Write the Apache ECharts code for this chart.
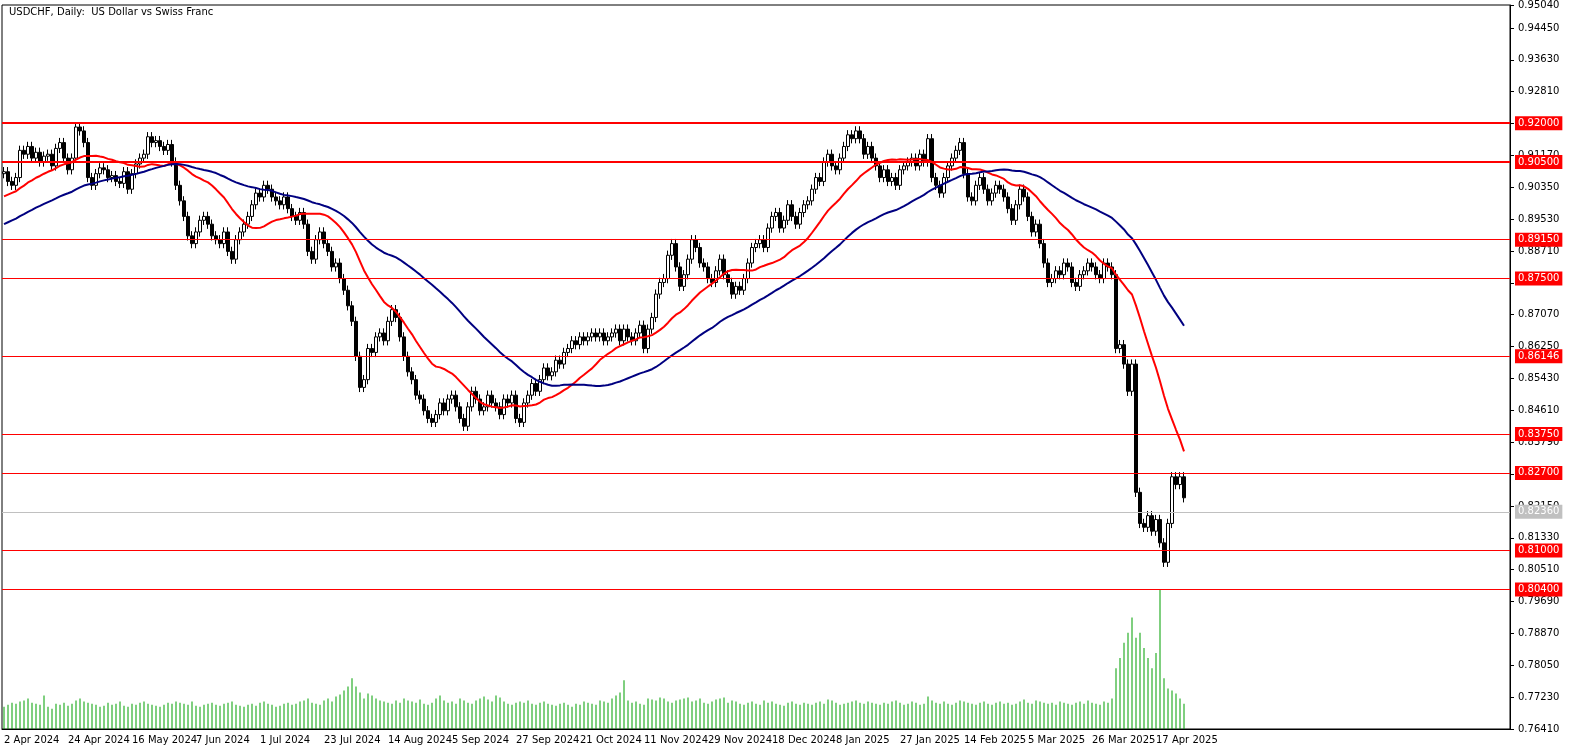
<!DOCTYPE html>
<html>
<head>
<meta charset="utf-8">
<script src="https://cdn.jsdelivr.net/npm/echarts@6/dist/echarts.min.js"></script>
<style>
  html, body { margin: 0; padding: 0; background: #fff; }
  #chart { width: 1586px; height: 750px; }
</style>
</head>
<body>
<div id="chart"></div>
<script>
// closes before the visible window (only used to warm up the moving averages)
var priorCloses = [
  0.8790,0.8810,0.8800,0.8830,0.8820,0.8850,0.8840,0.8860,0.8850,0.8870,
  0.8860,0.8880,0.8870,0.8890,0.8880,0.8900,0.8890,0.8910,0.8900,0.8920,
  0.8910,0.8930,0.8920,0.8940,0.8930,0.8950,0.8940,0.8960,0.8950,0.8970,
  0.8940,0.8960,0.8950,0.8980,0.8970,0.8990,0.8980,0.9000,0.8990,0.9010,
  0.9000,0.9020,0.9010,0.9030,0.9020,0.9040,0.9030,0.9050,0.9060,0.9070
];

// daily closes, 2 Apr 2024 .. 24 Apr 2025
var closes = [
  0.9075,0.9050,0.9040,0.9060,0.9130,0.9120,0.9140,0.9110,0.9125,0.9100,0.9115,
  0.9120,0.9090,0.9135,0.9150,0.9110,0.9080,0.9110,0.9190,0.9180,0.9150,0.9060,
  0.9040,0.9070,0.9085,0.9080,0.9060,0.9065,0.9050,0.9045,0.9075,0.9030,0.9070,
  0.9095,0.9110,0.9120,0.9165,0.9150,0.9155,0.9140,0.9130,0.9145,0.9100,0.9040,
  0.9000,0.8960,0.8910,0.8890,0.8920,0.8950,0.8960,0.8940,0.8910,0.8900,0.8890,0.8920,0.8870,0.8850,0.8900,0.8920,0.8940,
  0.8960,0.8990,0.9020,0.9010,0.9040,0.9030,0.9010,0.9000,0.8990,0.9010,
  0.8980,0.8960,0.8950,0.8970,0.8940,0.8870,0.8850,0.8900,0.8920,0.8890,
  0.8870,0.8830,0.8840,0.8800,0.8770,0.8730,0.8690,0.8600,0.8520,0.8540,
  0.8620,0.8610,0.8650,0.8660,0.8640,0.8690,0.8720,0.8700,0.8650,0.8600,
  0.8560,0.8540,0.8500,0.8490,0.8460,0.8440,0.8430,0.8450,0.8480,0.8460,0.8490,0.8500,0.8470,0.8440,0.8420,
  0.8470,0.8510,0.8490,0.8460,0.8470,0.8500,0.8480,0.8470,0.8450,0.8490,0.8480,0.8500,0.8440,0.8430,0.8480,
  0.8500,0.8530,0.8510,0.8540,0.8570,0.8550,0.8560,0.8590,0.8580,0.8610,0.8620,0.8640,0.8630,0.8650,0.8640,
  0.8650,0.8660,0.8650,0.8660,0.8640,0.8650,0.8660,0.8670,0.8640,0.8670,0.8650,0.8640,0.8660,0.8680,0.8620,
  0.8670,0.8700,0.8760,0.8790,0.8800,0.8860,0.8890,0.8830,0.8780,0.8810,0.8850,0.8900,
  0.8880,0.8840,0.8830,0.8800,0.8790,0.8820,0.8850,0.8810,0.8790,0.8760,0.8780,0.8770,0.8800,
  0.8840,0.8880,0.8890,0.8900,0.8880,0.8930,0.8960,0.8970,0.8930,0.8950,0.8990,0.8960,0.8940,0.8970,0.8990,
  0.9000,0.9030,0.9060,0.9050,0.9100,0.9120,0.9090,0.9080,0.9110,0.9140,0.9170,0.9160,0.9180,0.9160,0.9120,
  0.9140,0.9110,0.9090,0.9060,0.9080,0.9050,0.9060,0.9040,0.9080,0.9090,0.9100,0.9110,0.9090,0.9120,0.9100,
  0.9160,0.9060,0.9040,0.9020,0.9060,0.9090,0.9110,0.9130,0.9150,0.9070,0.9010,0.9000,0.9040,0.9060,0.9030,
  0.9000,0.9020,0.9040,0.9030,0.9010,0.8980,0.8950,0.8990,0.9030,0.9010,0.8960,0.8920,0.8940,0.8890,0.8840,
  0.8790,0.8800,0.8820,0.8810,0.8840,0.8830,0.8790,0.8780,0.8810,0.8820,0.8840,0.8830,0.8810,0.8800,0.8840,0.8830,
  0.8810,0.8620,0.8630,0.8580,0.8510,0.8580,0.8250,0.8170,0.8160,0.8190,0.8150,0.8180,0.8120,0.8070,0.8170,
  0.8290,0.8270,0.8290,0.8236
];

// tick volume (relative)
var volumes = [
  22,24,26,25,27,28,30,26,25,24,33,22,20,25,24,26,23,25,28,30,27,26,
  25,24,22,23,26,24,25,27,23,22,25,24,26,27,25,24,23,22,24,26,25,27,
  26,25,24,27,23,22,24,25,26,24,23,25,26,27,24,23,22,
  24,25,23,26,27,25,24,22,23,25,
  26,24,25,27,28,30,26,25,24,28,
  30,27,32,34,38,42,50,42,36,30,
  35,33,30,28,27,26,25,28,26,30,
  28,27,26,29,25,24,26,30,33,28,26,27,25,30,28,
  26,25,28,30,32,29,27,33,31,27,25,24,26,27,26,
  28,25,24,26,27,25,24,23,25,26,24,22,25,24,27,
  26,25,24,28,27,26,30,33,36,48,28,26,27,25,24,
  30,29,28,31,30,27,26,28,29,30,31,27,
  28,30,26,25,27,29,30,31,26,28,27,25,24,
  26,27,25,24,28,26,27,25,24,23,26,27,25,24,26,
  25,24,26,27,25,29,28,26,24,25,26,27,28,26,25,
  27,26,25,24,26,25,27,28,26,24,25,27,26,24,25,
  32,28,26,25,27,25,24,26,28,27,26,25,24,26,27,
  25,24,26,27,25,26,24,25,27,29,26,25,28,27,26,
  25,26,24,27,26,25,24,26,27,25,28,26,25,24,27,26,
  30,60,70,85,95,110,90,95,80,70,60,75,137,50,40,
  38,35,30,25
];

var dateLabels = ['2 Apr 2024','24 Apr 2024','16 May 2024','7 Jun 2024','1 Jul 2024','23 Jul 2024',
  '14 Aug 2024','5 Sep 2024','27 Sep 2024','21 Oct 2024','11 Nov 2024','29 Nov 2024','18 Dec 2024',
  '8 Jan 2025','27 Jan 2025','14 Feb 2025','5 Mar 2025','26 Mar 2025','17 Apr 2025'];

var levels = [0.92000, 0.90500, 0.89150, 0.87500, 0.86146, 0.83750, 0.82700, 0.81000, 0.80400];
var thickLevels = [0.92000, 0.90500];
var lastPrice = 0.8236;

var totalSlots = 377;
var labelStep = 16;
var wick = 0.0012;

var categories = [];
for (var i = 0; i < totalSlots; i++) {
  categories.push(i % labelStep === 0 && dateLabels[i / labelStep] ? dateLabels[i / labelStep] : '');
}

var ohlc = closes.map(function (c, i) {
  var o = i === 0 ? priorCloses[priorCloses.length - 1] : closes[i - 1];
  return [o, c, Math.min(o, c) - wick, Math.max(o, c) + wick];
});

var allCloses = priorCloses.concat(closes);
function sma(period) {
  return closes.map(function (c, i) {
    var j = i + priorCloses.length, s = 0, n = 0;
    for (var k = Math.max(0, j - period + 1); k <= j; k++) { s += allCloses[k]; n++; }
    return +(s / n).toFixed(5);
  });
}

var chart = echarts.init(document.getElementById('chart'));

var levelLines = levels.map(function (v) {
  return {
    yAxis: v,
    lineStyle: { color: '#ff0000', width: thickLevels.indexOf(v) >= 0 ? 2 : 1, type: 'solid' },
    label: {
      show: true,
      position: 'end',
      formatter: v.toFixed(5),
      color: '#fff',
      backgroundColor: '#ff0000',
      padding: [2, 3],
      fontSize: 10,
      fontFamily: 'DejaVu Sans'
    }
  };
});
levelLines.push({
  yAxis: lastPrice,
  lineStyle: { color: '#c0c0c0', width: 1, type: 'solid' },
  label: {
    show: true, position: 'end', formatter: lastPrice.toFixed(5),
    color: '#fff', backgroundColor: '#c0c0c0', padding: [2, 3], fontSize: 10, fontFamily: 'DejaVu Sans'
  }
});

chart.setOption({
  animation: false,
  title: {
    text: 'USDCHF, Daily:  US Dollar vs Swiss Franc',
    left: 4,
    top: 2,
    textStyle: { fontSize: 10, fontWeight: 'normal', color: '#000', fontFamily: 'DejaVu Sans' }
  },
  grid: [
    { left: 2, right: 76, top: 1, bottom: 21, show: true, borderColor: '#000', borderWidth: 1 },
    { left: 2, right: 76, top: 1, bottom: 21 }
  ],
  xAxis: [{
    type: 'category',
    data: categories,
    boundaryGap: true,
    axisLine: { lineStyle: { color: '#000' } },
    axisTick: { show: false },
    axisLabel: {
      interval: 0, color: '#000', fontSize: 10, fontFamily: 'DejaVu Sans', align: 'left', margin: 6
    },
    splitLine: { show: false }
  }, {
    type: 'category',
    gridIndex: 1,
    data: categories,
    show: false
  }],
  yAxis: [{
    type: 'value',
    position: 'right',
    min: 0.7641,
    max: 0.9504,
    interval: 0.0082,
    axisLine: { show: true, lineStyle: { color: '#000' } },
    axisTick: { show: true, length: 4, lineStyle: { color: '#000' } },
    axisLabel: {
      color: '#000', fontSize: 10, fontFamily: 'DejaVu Sans', margin: 8,
      formatter: function (v) { return v.toFixed(5); }
    },
    splitLine: { show: false }
  }, {
    type: 'value',
    gridIndex: 1,
    min: 0,
    max: 718,
    show: false
  }],
  series: [{
    type: 'bar',
    xAxisIndex: 1,
    yAxisIndex: 1,
    data: volumes,
    barWidth: 1,
    itemStyle: { color: '#00a000' },
    silent: true
  }, {
    type: 'candlestick',
    data: ohlc,
    barWidth: 3,
    itemStyle: { color: '#ffffff', color0: '#000000', borderColor: '#000000', borderColor0: '#000000', borderWidth: 1 },
    markLine: { symbol: 'none', silent: true, data: levelLines }
  }, {
    type: 'line',
    data: sma(20),
    showSymbol: false,
    lineStyle: { color: '#ff0000', width: 2 }
  }, {
    type: 'line',
    data: sma(50),
    showSymbol: false,
    lineStyle: { color: '#000080', width: 2 }
  }]
});
</script>
</body>
</html>
